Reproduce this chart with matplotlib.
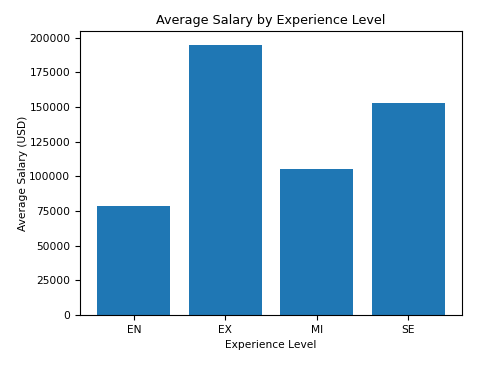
import matplotlib.pyplot as plt

levels = ["EN", "EX", "MI", "SE"]
avg_salary = [78500, 195000, 104900, 153100]

plt.rcParams['font.size'] = 7.7

fig = plt.figure(figsize=(5.02, 3.69), dpi=100)
ax = fig.add_axes([80 / 502, 1 - 315 / 369, 382 / 502, 284 / 369])
ax.bar(levels, avg_salary, color='#1f77b4')
ax.set_title("Average Salary by Experience Level", fontsize=9.2, pad=5)
ax.set_xlabel("Experience Level")
ax.set_ylabel("Average Salary (USD)", labelpad=1)

fig.savefig("out.png", dpi=100)
